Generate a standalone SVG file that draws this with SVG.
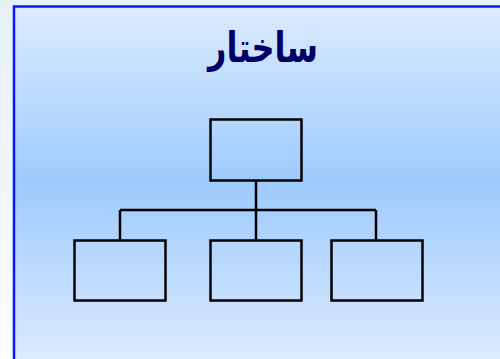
<svg xmlns="http://www.w3.org/2000/svg" width="500" height="359" viewBox="0 0 500 359">
<defs>
<linearGradient id="bg" x1="0" y1="0" x2="0" y2="1">
<stop offset="0" stop-color="#e4f1f7"/>
<stop offset="0.6" stop-color="#f2f8fb"/>
<stop offset="1" stop-color="#fbfdfe"/>
</linearGradient>
<linearGradient id="panel" x1="0" y1="6" x2="0" y2="359" gradientUnits="userSpaceOnUse">
<stop offset="0" stop-color="#dcebfe"/>
<stop offset="0.5" stop-color="#9dcbfd"/>
<stop offset="1" stop-color="#dceafe"/>
</linearGradient>
<style>
.box{fill:none;stroke:#000;stroke-width:2.5}
.ln{stroke:#000;stroke-width:2.5;fill:none}
.title{font-family:"DejaVu Sans","Noto Sans",sans-serif;font-weight:bold;font-size:32px;fill:#000066}
</style>
</defs>
<rect x="0" y="0" width="500" height="359" fill="url(#bg)"/>
<rect x="14" y="6.5" width="500" height="360" fill="url(#panel)" stroke="#0a14ff" stroke-width="2.5"/>
<text class="title" x="263" y="0" text-anchor="middle" direction="rtl" transform="translate(0 62) scale(1 1.3)">ساختار</text>
<g id="connectors">
<path class="ln" d="M256 180 V240 M120 210 H376 M120 210 V240 M376 210 V240"/>
</g>
<g id="top"><rect class="box" x="210.5" y="119.5" width="91" height="61"/></g>
<g id="left"><rect class="box" x="74.5" y="240.5" width="91" height="60"/></g>
<g id="middle"><rect class="box" x="210.5" y="240.5" width="91" height="60"/></g>
<g id="right"><rect class="box" x="331.5" y="240.5" width="91" height="60"/></g>
</svg>
